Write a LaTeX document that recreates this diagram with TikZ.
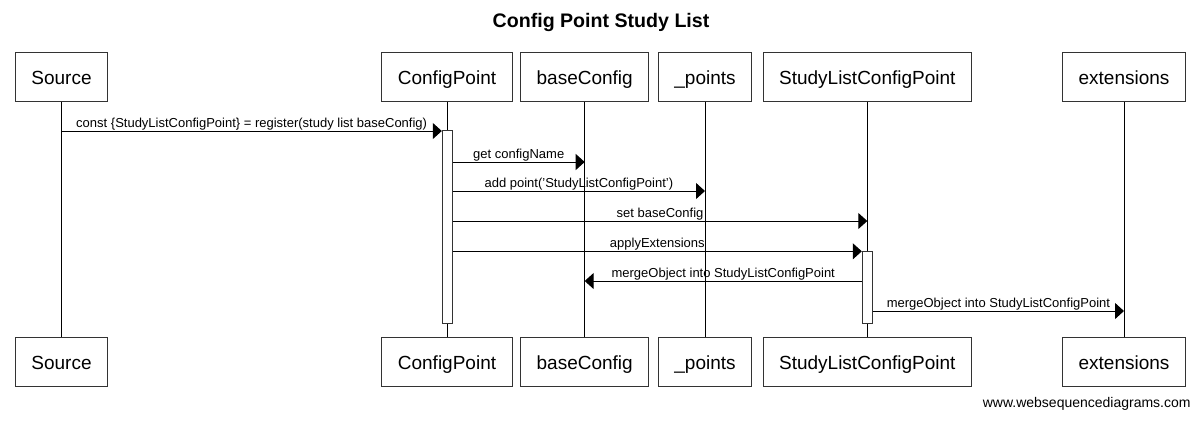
\documentclass[tikz,border=0pt]{standalone}
\usepackage{fontspec}
\setmainfont{Liberation Sans}
\usetikzlibrary{arrows.meta,positioning}

\tikzset{
  actor/.style={draw=black!80, fill=white, line width=0.5pt, inner xsep=8pt,
    minimum height=24.35pt, text height=9.8pt, text depth=2pt,
    font=\fontsize{9.5}{11}\selectfont},
  actbar/.style={draw=black!80, fill=white, line width=0.5pt, inner sep=0pt,
    minimum width=5pt},
  lifeline/.style={draw=black, line width=0.5pt},
  msg/.style={draw=black, line width=0.5pt, -{Triangle[length=4.5pt,width=8pt]}},
  lbl/.style={font=\fontsize{6.5}{8}\selectfont, anchor=base, yshift=2pt, inner sep=0pt}
}

\begin{document}
\begin{tikzpicture}[x=0.5pt,y=-0.5pt]
\useasboundingbox (0,0) rectangle (1200,420);
\node[font=\bfseries\fontsize{9.8}{12}\selectfont] (title) at (601,22.7) {Config Point Study List};
% participants, top and bottom
\node[actor] (src) at (61.5,76.7) {Source};
\node[actor] (cp) at (447,76.7) {ConfigPoint};
\node[actor] (bc) at (584.7,76.7) {baseConfig};
\node[actor] (pts) at (705,76.7) {\_points};
\node[actor] (slcp) at (867.3,76.7) {StudyListConfigPoint};
\node[actor] (ext) at (1124,76.7) {extensions};
\node[actor] (src2) at (61.5,361.7) {Source};
\node[actor] (cp2) at (447,361.7) {ConfigPoint};
\node[actor] (bc2) at (584.7,361.7) {baseConfig};
\node[actor] (pts2) at (705,361.7) {\_points};
\node[actor] (slcp2) at (867.3,361.7) {StudyListConfigPoint};
\node[actor] (ext2) at (1124,361.7) {extensions};
% lifelines
\draw[lifeline] (src) -- (src2);
\draw[lifeline] (cp) -- (cp2);
\draw[lifeline] (bc) -- (bc2);
\draw[lifeline] (pts) -- (pts2);
\draw[lifeline] (slcp) -- (slcp2);
\draw[lifeline] (ext) -- (ext2);
% activations
\node[actbar, minimum height=96.3pt] (cpact) at (447.3,227) {};
\node[actbar, minimum height=36.35pt] (slact) at (867.3,287.6) {};
% message rows
\coordinate (r1) at (0,131);
\coordinate (r2) at (0,162);
\coordinate (r3) at (0,191);
\coordinate (r4) at (0,221);
\coordinate (r5) at (0,251.3);
\coordinate (r6) at (0,281);
\coordinate (r7) at (0,311);
\draw[msg] (src |- r1) -- node[lbl] (l1) {const \{StudyListConfigPoint\} = register(study list baseConfig)} (cpact.west |- r1);
\draw[msg] (cpact.east |- r2) -- node[lbl] (l2) {get configName} (bc |- r2);
\draw[msg] (cpact.east |- r3) -- node[lbl] (l3) {add point('StudyListConfigPoint')} (pts |- r3);
\draw[msg] (cpact.east |- r4) -- node[lbl] (l4) {set baseConfig} (slcp |- r4);
\draw[msg] (cpact.east |- r5) -- node[lbl] (l5) {applyExtensions} (slact.west |- r5);
\draw[msg] (slact.west |- r6) -- node[lbl] (l6) {mergeObject into StudyListConfigPoint} (bc |- r6);
\draw[msg] (slact.east |- r7) -- node[lbl] (l7) {mergeObject into StudyListConfigPoint} (ext |- r7);
\node[font=\fontsize{7}{8}\selectfont, anchor=east, inner sep=0pt] (wsd) at (1191,404.3) {www.websequencediagrams.com};
\end{tikzpicture}
\end{document}
